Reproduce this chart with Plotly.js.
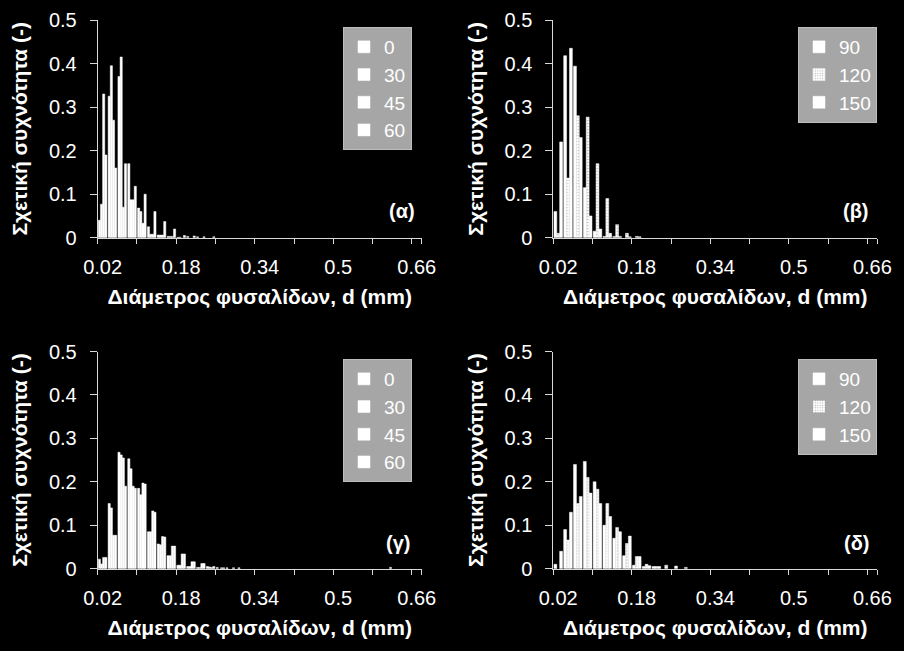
<!DOCTYPE html>
<html>
<head>
<meta charset="utf-8">
<script src="https://cdn.plot.ly/plotly-3.0.1.min.js"></script>
<style>html,body{margin:0;padding:0;background:#000;}#chart{width:904px;height:651px;}</style>
</head>
<body>
<div id="chart"></div>
<script>
// Bubble diameter classes (mm)
const categories = ['0.02','0.04','0.06','0.08','0.1','0.12','0.14','0.16','0.18','0.2','0.22','0.24','0.26','0.28','0.3','0.32','0.34','0.36','0.38','0.4','0.42','0.44','0.46','0.48','0.5','0.52','0.54','0.56','0.58','0.6','0.62','0.64','0.66'];
const xTickLabels = ['0.02','0.18','0.34','0.5','0.66'];

// Panel (α): series 0, 30, 45, 60
const alpha0  = [0.040,0.325,0.370,0.170,0.068,0.025,0.006,0.003,0.001,0.003,0.002,0,0,0,0,0,0,0,0,0,0,0,0,0,0,0,0,0,0,0,0,0,0];
const alpha30 = [0.077,0.395,0.415,0.087,0.060,0.008,0.006,0.003,0.001,0,0,0,0,0,0,0,0,0,0,0,0,0,0,0,0,0,0,0,0,0,0,0,0];
const alpha45 = [0.330,0.270,0.070,0.087,0.033,0.008,0.006,0.003,0,0,0,0,0,0,0,0,0,0,0,0,0,0,0,0,0,0,0,0,0,0,0,0,0];
const alpha60 = [0.190,0.160,0.170,0.118,0.100,0.060,0.037,0.020,0.005,0.004,0.002,0.002,0,0,0,0,0,0,0,0,0,0,0,0,0,0,0,0,0,0,0,0,0];

// Panel (β): series 90, 120, 150
const beta90  = [0.060,0.418,0.394,0.115,0.015,0.003,0.003,0,0,0,0,0,0,0,0,0,0,0,0,0,0,0,0,0,0,0,0,0,0,0,0,0,0];
const beta120 = [0.010,0.137,0.280,0.277,0.170,0.090,0.030,0.010,0.003,0,0,0,0,0,0,0,0,0,0,0,0,0,0,0,0,0,0,0,0,0,0,0,0];
const beta150 = [0.220,0.435,0.230,0.050,0.020,0.010,0.003,0.002,0.002,0,0,0,0,0,0,0,0,0,0,0,0,0,0,0,0,0,0,0,0,0,0,0,0];

// Panel (γ): series 0, 30, 45, 60
const gamma0  = [0.022,0.150,0.268,0.253,0.185,0.085,0.057,0.030,0.008,0.005,0.003,0.005,0.003,0.002,0,0,0,0,0,0,0,0,0,0,0,0,0,0,0,0,0,0,0];
const gamma30 = [0.011,0.140,0.262,0.230,0.170,0.085,0.055,0.030,0.008,0.005,0.003,0.004,0,0,0.002,0,0,0,0,0,0,0,0,0,0,0,0,0,0,0,0,0,0];
const gamma45 = [0.026,0.077,0.255,0.190,0.197,0.133,0.074,0.052,0.034,0.016,0.012,0.003,0.002,0,0,0,0,0,0,0,0,0,0,0,0,0,0,0,0,0,0,0,0];
const gamma60 = [0.026,0.077,0.190,0.185,0.195,0.130,0.073,0.052,0.034,0.016,0.012,0.005,0.002,0.002,0,0,0,0,0,0,0,0,0,0,0,0,0,0,0,0.003,0,0,0];

// Panel (δ): series 90, 120, 150
const delta90  = [0.010,0.090,0.240,0.247,0.200,0.100,0.070,0.030,0.008,0.005,0.005,0,0,0,0,0,0,0,0,0,0,0,0,0,0,0,0,0,0,0,0,0,0];
const delta120 = [0.000,0.066,0.150,0.210,0.183,0.150,0.095,0.058,0.028,0.010,0.005,0.008,0.006,0.003,0,0,0,0,0,0,0,0,0,0,0,0,0,0,0,0,0,0,0];
const delta150 = [0.040,0.130,0.166,0.174,0.150,0.120,0.085,0.075,0.028,0.007,0.005,0,0,0,0,0,0,0,0,0,0,0,0,0,0,0,0,0,0,0,0,0,0];

const yTitle = 'Σχετική συχνότητα (-)';
const xTitle = 'Διάμετρος φυσαλίδων, d (mm)';
const panelLabels = ['(α)','(β)','(γ)','(δ)'];

const FONT = '"Liberation Sans", Arial, sans-serif';
const AXC = '#d9d9d9';

function bar(name, y, xa, ya, leg, patterned) {
  const marker = {color: '#ffffff',
                  line: {color: '#ffffff', width: y.map(v => v > 0 ? 0.5 : 0)}};
  if (patterned) {
    marker.pattern = {shape: '.', bgcolor: '#ffffff', fgcolor: '#b4b4b4', size: 3, solidity: 0.25};
  }
  return {type: 'bar', name: name, x: categories, y: y, xaxis: xa, yaxis: ya,
          legend: leg, marker: marker, hoverinfo: 'x+y+name'};
}

const traces = [
  bar('0', alpha0, 'x', 'y', 'legend'),
  bar('30', alpha30, 'x', 'y', 'legend'),
  bar('45', alpha45, 'x', 'y', 'legend'),
  bar('60', alpha60, 'x', 'y', 'legend'),
  bar('90', beta90, 'x2', 'y2', 'legend2'),
  bar('120', beta120, 'x2', 'y2', 'legend2', true),
  bar('150', beta150, 'x2', 'y2', 'legend2'),
  bar('0', gamma0, 'x3', 'y3', 'legend3'),
  bar('30', gamma30, 'x3', 'y3', 'legend3'),
  bar('45', gamma45, 'x3', 'y3', 'legend3'),
  bar('60', gamma60, 'x3', 'y3', 'legend3'),
  bar('90', delta90, 'x4', 'y4', 'legend4'),
  bar('120', delta120, 'x4', 'y4', 'legend4', true),
  bar('150', delta150, 'x4', 'y4', 'legend4')
];

const tickVals = categories.filter((c, i) => i % 4 === 0);
const tickText = tickVals.map(c => xTickLabels.indexOf(c) >= 0 ? c : '');

function xAxis(domain, anchor) {
  return {
    domain: domain, anchor: anchor, type: 'category',
    categoryorder: 'array', categoryarray: categories,
    range: [-0.5, categories.length - 0.5],
    tickmode: 'array', tickvals: tickVals, ticktext: tickText, tickangle: 0,
    tickson: 'boundaries', ticks: 'outside', ticklen: 5, tickwidth: 1, tickcolor: AXC,
    showline: true, linecolor: AXC, linewidth: 1, showgrid: false, zeroline: false,
    tickfont: {family: FONT, size: 20, color: '#ffffff'},
    ticklabelstandoff: 11,
    title: {text: xTitle, font: {family: FONT, size: 21, color: '#ffffff', weight: 'bold'}, standoff: 12},
    fixedrange: true
  };
}
function yAxis(domain, anchor) {
  return {
    domain: domain, anchor: anchor, range: [0, 0.5], dtick: 0.1, tick0: 0,
    ticks: 'outside', ticklen: 7, tickwidth: 1, tickcolor: AXC,
    showline: true, linecolor: AXC, linewidth: 1, showgrid: false, zeroline: false,
    tickfont: {family: FONT, size: 20, color: '#ffffff'},
    ticklabelstandoff: 9,
    title: {text: yTitle, font: {family: FONT, size: 21, color: '#ffffff', weight: 'bold'}, standoff: 15},
    fixedrange: true
  };
}

const W = 904, H = 651;
const xdL = [97.7 / W, 421.7 / W], xdR = [553.3 / W, 877.3 / W];
const ydT = [(H - 237.7) / H, (H - 20) / H], ydB = [(H - 568.7) / H, (H - 351.5) / H];

function legend(xpx, ypx) {
  return {x: xpx / W, y: (H - ypx) / H, xanchor: 'left', yanchor: 'top',
          bgcolor: '#a6a6a6', bordercolor: '#bdbdbd', borderwidth: 1,
          font: {family: FONT, size: 19, color: '#ffffff'},
          itemwidth: 30, tracegroupgap: 0, traceorder: 'normal', itemclick: false, itemdoubleclick: false};
}

function panelLabel(text, xpx, ypx) {
  return {text: text, xref: 'paper', yref: 'paper', x: xpx / W, y: (H - ypx) / H,
          xanchor: 'center', yanchor: 'middle', showarrow: false,
          font: {family: FONT, size: 20, color: '#ffffff', weight: 'bold'}};
}

const layout = {
  width: W, height: H,
  margin: {l: 0, r: 0, t: 0, b: 0},
  paper_bgcolor: '#000000', plot_bgcolor: '#000000',
  font: {family: FONT, color: '#ffffff'},
  barmode: 'group', bargap: 0.12, bargroupgap: 0,
  showlegend: true,
  xaxis: xAxis(xdL, 'y'), yaxis: yAxis(ydT, 'x'),
  xaxis2: xAxis(xdR, 'y2'), yaxis2: yAxis(ydT, 'x2'),
  xaxis3: xAxis(xdL, 'y3'), yaxis3: yAxis(ydB, 'x3'),
  xaxis4: xAxis(xdR, 'y4'), yaxis4: yAxis(ydB, 'x4'),
  legend: legend(343, 27), legend2: legend(798, 27),
  legend3: legend(343, 359), legend4: legend(798, 359),
  annotations: [
    panelLabel(panelLabels[0], 402, 211),
    panelLabel(panelLabels[1], 856, 211),
    panelLabel(panelLabels[2], 398, 543),
    panelLabel(panelLabels[3], 856, 543)
  ]
};

Plotly.newPlot('chart', traces, layout, {displayModeBar: false, staticPlot: true});
</script>
</body>
</html>
